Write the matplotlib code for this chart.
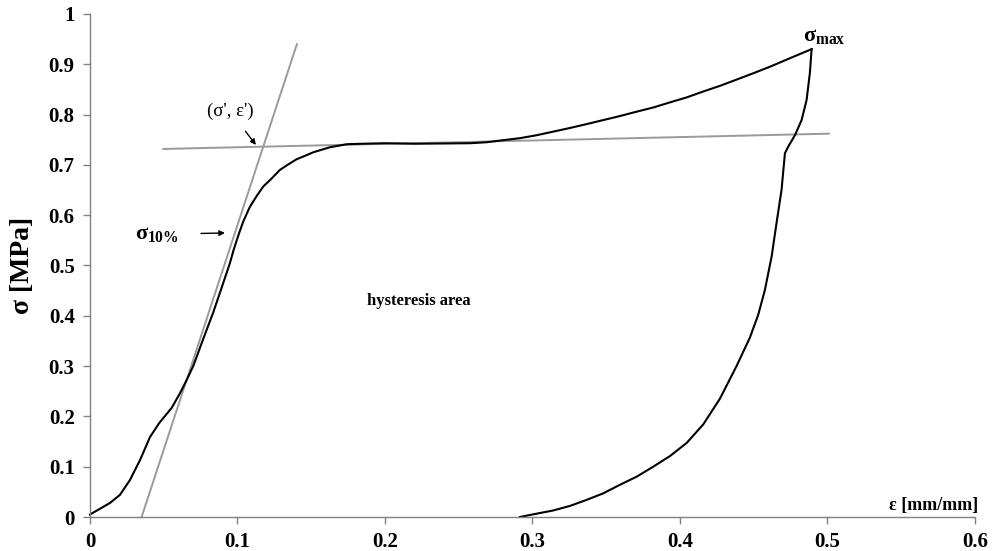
import matplotlib.pyplot as plt

# loading branch (strain, stress)
load_eps = [0, 0.0136, 0.0203, 0.027, 0.0339, 0.0407, 0.047, 0.0554, 0.061, 0.0655,
            0.070, 0.0768, 0.0836, 0.0893, 0.0949, 0.0972, 0.1006, 0.1040, 0.1085,
            0.113, 0.1175, 0.1232, 0.1288, 0.1345, 0.140, 0.1458, 0.1514, 0.157,
            0.1627, 0.1684, 0.174, 0.185, 0.2, 0.22, 0.2576, 0.269, 0.280, 0.2915,
            0.303, 0.314, 0.325, 0.3367, 0.348, 0.3593, 0.371, 0.3819, 0.393,
            0.4045, 0.416, 0.4271, 0.438, 0.4497, 0.461, 0.4746, 0.4893]
load_sig = [0.005, 0.028, 0.044, 0.073, 0.113, 0.159, 0.187, 0.217, 0.246, 0.272,
            0.300, 0.354, 0.407, 0.456, 0.505, 0.529, 0.560, 0.588, 0.617,
            0.638, 0.657, 0.673, 0.690, 0.701, 0.711, 0.718, 0.725, 0.730,
            0.735, 0.738, 0.741, 0.742, 0.743, 0.742, 0.743, 0.745, 0.749, 0.753,
            0.759, 0.766, 0.773, 0.781, 0.789, 0.797, 0.806, 0.814, 0.824,
            0.834, 0.846, 0.857, 0.869, 0.882, 0.895, 0.912, 0.930]

# unloading branch
unload_eps = [0.4893, 0.4881, 0.4859, 0.4825, 0.478, 0.4734, 0.4712, 0.4689, 0.4655,
              0.4622, 0.4576, 0.4531, 0.4475, 0.4384, 0.4271, 0.4158, 0.4045,
              0.3932, 0.3819, 0.3706, 0.3593, 0.348, 0.3367, 0.3254, 0.3141,
              0.2983, 0.2915]
unload_sig = [0.930, 0.882, 0.829, 0.789, 0.759, 0.736, 0.723, 0.650, 0.584,
              0.518, 0.451, 0.402, 0.357, 0.300, 0.235, 0.184, 0.147,
              0.121, 0.100, 0.080, 0.064, 0.047, 0.034, 0.022, 0.013,
              0.004, 0.0]

# construction lines
tangent_eps = [0.035, 0.1403]
tangent_sig = [0.0, 0.940]
plateau_eps = [0.0497, 0.501]
plateau_sig = [0.7316, 0.762]

x_ticks = [0, 0.1, 0.2, 0.3, 0.4, 0.5, 0.6]
x_labels = ['0', '0.1', '0.2', '0.3', '0.4', '0.5', '0.6']
y_ticks = [0, 0.1, 0.2, 0.3, 0.4, 0.5, 0.6, 0.7, 0.8, 0.9, 1.0]
y_labels = ['0', '0.1', '0.2', '0.3', '0.4', '0.5', '0.6', '0.7', '0.8', '0.9', '1']

plt.rcParams['font.family'] = ['Liberation Serif', 'DejaVu Serif']
plt.rcParams['mathtext.fontset'] = 'custom'
plt.rcParams['mathtext.rm'] = 'Liberation Serif:bold'
plt.rcParams['mathtext.it'] = 'Liberation Serif:bold'
plt.rcParams['mathtext.bf'] = 'Liberation Serif:bold'

fig = plt.figure(figsize=(10.01, 5.51), dpi=100)
ax = fig.add_axes([0.0899, 0.0617, 0.884, 0.913])

gray = '#9a9a9a'
ax.plot(tangent_eps, tangent_sig, color=gray, lw=1.4, clip_on=False)
ax.plot(plateau_eps, plateau_sig, color=gray, lw=1.4, clip_on=False)
ax.plot(load_eps, load_sig, color='black', lw=1.5, clip_on=False)
ax.plot(unload_eps, unload_sig, color='black', lw=1.5, clip_on=False)

ax.set_xlim(0, 0.6)
ax.set_ylim(0, 1)
ax.set_xticks(x_ticks)
ax.set_xticklabels(x_labels)
ax.set_yticks(y_ticks)
ax.set_yticklabels(y_labels)
ax.tick_params(colors='#808080', length=5, width=1, labelsize=15, pad=6)
for lab in ax.get_xticklabels() + ax.get_yticklabels():
    lab.set_color('black')
    lab.set_fontweight('bold')

for s in ['top', 'right']:
    ax.spines[s].set_visible(False)
for s in ['left', 'bottom']:
    ax.spines[s].set_color('#808080')
    ax.spines[s].set_linewidth(1)

ax.set_ylabel('σ [MPa]', fontsize=20, fontweight='bold', labelpad=10)
ax.text(0.602, 0.006, 'ε [mm/mm]', fontsize=13, fontweight='bold',
        ha='right', va='bottom')

ax.text(0.223, 0.429, 'hysteresis area', fontsize=12, fontweight='bold',
        ha='center', va='center')
ax.text(0.498, 0.955, r'$\sigma_{max}$', fontsize=16,
        ha='center', va='center')

ax.annotate("(σ', ε')", xy=(0.1125, 0.7396), xytext=(0.0949, 0.807),
            fontsize=13.5, ha='center', va='center',
            arrowprops=dict(arrowstyle='-|>', color='black', lw=1,
                            mutation_scale=8, shrinkA=8, shrinkB=0))
ax.annotate(r'$\sigma_{10\%}$', xy=(0.0915, 0.5646), xytext=(0.0454, 0.562),
            fontsize=16, ha='center', va='center',
            arrowprops=dict(arrowstyle='-|>', color='black', lw=1,
                            mutation_scale=8, shrinkA=14, shrinkB=0))

fig.savefig('out.png', dpi=100)
